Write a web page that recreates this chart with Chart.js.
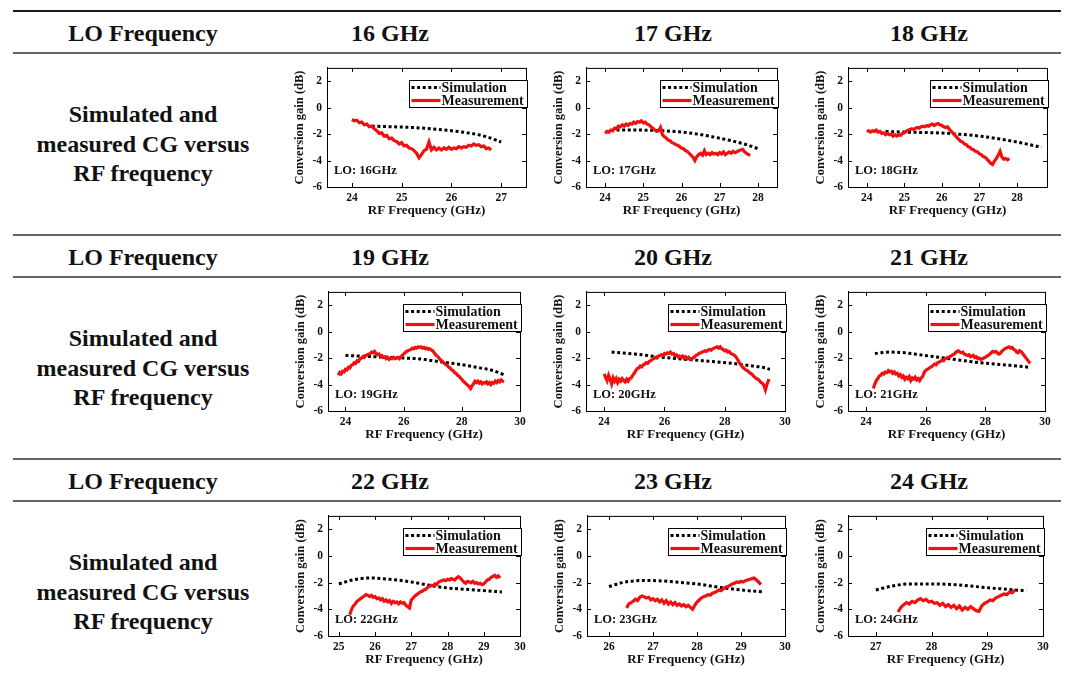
<!DOCTYPE html>
<html><head><meta charset="utf-8">
<script src="https://cdn.jsdelivr.net/npm/chart.js@4.4.1/dist/chart.umd.min.js"></script>
<style>
html,body{margin:0;padding:0;background:#fff;}
#page{position:relative;width:1065px;height:677px;overflow:hidden;background:#fff;}
.rule{position:absolute;left:13px;right:4px;}
.txt{position:absolute;transform:translate(-50%,-50%);white-space:nowrap;font-family:"Liberation Serif","Times New Roman",serif;font-weight:bold;font-size:24px;color:#111;}
.lbl{position:absolute;transform:translateX(-50%);text-align:center;white-space:nowrap;font-family:"Liberation Serif","Times New Roman",serif;font-weight:bold;font-size:24px;line-height:29.5px;color:#111;}
.cw{position:absolute;}
</style></head>
<body><div id="page"></div>
<script>
// ---------- table text ----------
const headerLabel = 'LO Frequency';
const loFreqs = ['16 GHz','17 GHz','18 GHz','19 GHz','20 GHz','21 GHz','22 GHz','23 GHz','24 GHz'];
const rowLabel = ['Simulated and','measured CG versus','RF frequency'];
const seriesNames = ['Simulation','Measurement'];
const yTicks = [-6,-4,-2,0,2];

// ---------- x axis ranges / ticks (GHz) ----------
const xRange16 = [23.5,27.5], xTicks16 = [24,25,26,27];
const xRange17 = [23.5,28.5], xTicks17 = [24,25,26,27,28];
const xRange18 = [23.5,28.8], xTicks18 = [24,25,26,27,28];
const xRange19 = [23.4,30],   xTicks19 = [24,26,28,30];
const xRange20 = [23.4,30],   xTicks20 = [24,26,28,30];
const xRange21 = [23.4,30],   xTicks21 = [24,26,28,30];
const xRange22 = [24.7,30],   xTicks22 = [25,26,27,28,29,30];
const xRange23 = [25.5,30],   xTicks23 = [26,27,28,29,30];
const xRange24 = [26.5,30],   xTicks24 = [27,28,29,30];

// ---------- data: [RF GHz, conversion gain dB] ----------
const sim16 = [[24.4,-1.4],[24.8,-1.45],[25.2,-1.5],[25.6,-1.6],[26.0,-1.75],[26.4,-1.95],[26.7,-2.2],[27.0,-2.6]];
const meas16 = [[24.00,-0.90],[24.05,-1.00],[24.10,-0.95],[24.15,-1.15],[24.20,-1.10],[24.25,-1.30],[24.30,-1.25],[24.35,-1.45],[24.40,-1.40],[24.45,-1.60],[24.50,-1.75],[24.55,-1.95],[24.60,-1.90],[24.65,-2.15],[24.70,-2.10],[24.75,-2.35],[24.80,-2.30],[24.85,-2.50],[24.90,-2.55],[24.95,-2.75],[25.00,-2.65],[25.05,-2.90],[25.10,-2.85],[25.15,-3.05],[25.20,-3.10],[25.25,-3.25],[25.30,-3.45],[25.35,-3.80],[25.40,-3.55],[25.45,-3.25],[25.50,-3.15],[25.55,-2.60],[25.60,-3.20],[25.65,-3.00],[25.70,-3.20],[25.75,-3.05],[25.80,-3.20],[25.85,-3.05],[25.90,-3.15],[25.95,-3.00],[26.00,-3.15],[26.05,-3.05],[26.10,-3.10],[26.15,-2.95],[26.20,-3.05],[26.25,-2.95],[26.30,-3.00],[26.35,-2.85],[26.40,-2.90],[26.45,-2.75],[26.50,-2.85],[26.55,-2.80],[26.60,-2.95],[26.65,-2.90],[26.70,-3.10],[26.75,-3.05],[26.80,-3.20]];

const sim17 = [[24.3,-1.7],[24.8,-1.7],[25.3,-1.72],[25.8,-1.8],[26.3,-1.95],[26.8,-2.2],[27.3,-2.5],[27.7,-2.8],[28.0,-3.1]];
const meas17 = [[24.00,-1.95],[24.05,-1.80],[24.10,-1.85],[24.15,-1.70],[24.20,-1.75],[24.25,-1.55],[24.30,-1.60],[24.35,-1.40],[24.40,-1.45],[24.45,-1.30],[24.50,-1.40],[24.55,-1.25],[24.60,-1.35],[24.65,-1.20],[24.70,-1.25],[24.75,-1.10],[24.80,-1.20],[24.85,-1.05],[24.90,-1.10],[24.95,-1.00],[25.00,-1.15],[25.05,-1.10],[25.10,-1.25],[25.15,-1.30],[25.20,-1.45],[25.25,-1.55],[25.30,-1.70],[25.35,-1.80],[25.40,-1.75],[25.45,-1.50],[25.50,-2.05],[25.55,-2.20],[25.60,-2.30],[25.65,-2.45],[25.70,-2.50],[25.75,-2.65],[25.80,-2.70],[25.85,-2.80],[25.90,-2.85],[25.95,-2.95],[26.00,-3.05],[26.05,-3.10],[26.10,-3.25],[26.15,-3.30],[26.20,-3.45],[26.25,-3.60],[26.30,-3.75],[26.35,-4.00],[26.40,-3.70],[26.45,-3.55],[26.50,-3.45],[26.55,-3.60],[26.60,-3.25],[26.65,-3.55],[26.70,-3.45],[26.75,-3.55],[26.80,-3.40],[26.85,-3.50],[26.90,-3.45],[26.95,-3.55],[27.00,-3.40],[27.05,-3.50],[27.10,-3.35],[27.15,-3.55],[27.20,-3.45],[27.25,-3.35],[27.30,-3.45],[27.35,-3.30],[27.40,-3.40],[27.45,-3.35],[27.50,-3.25],[27.55,-3.20],[27.60,-3.15],[27.65,-3.35],[27.70,-3.45],[27.75,-3.55],[27.80,-3.60]];

const sim18 = [[24.5,-1.8],[25.0,-1.85],[25.5,-1.88],[26.0,-1.92],[26.5,-2.02],[27.0,-2.15],[27.5,-2.35],[28.0,-2.6],[28.65,-3.0]];
const meas18 = [[24.00,-1.80],[24.05,-1.75],[24.10,-1.85],[24.15,-1.75],[24.20,-1.80],[24.25,-1.70],[24.30,-1.85],[24.35,-1.80],[24.40,-1.95],[24.45,-1.90],[24.50,-2.05],[24.55,-1.95],[24.60,-2.05],[24.65,-2.00],[24.70,-2.15],[24.75,-2.05],[24.80,-2.15],[24.85,-2.05],[24.90,-2.10],[24.95,-1.95],[25.00,-1.90],[25.05,-1.80],[25.10,-1.70],[25.15,-1.65],[25.20,-1.60],[25.25,-1.65],[25.30,-1.55],[25.35,-1.50],[25.40,-1.55],[25.45,-1.45],[25.50,-1.40],[25.55,-1.45],[25.60,-1.35],[25.65,-1.40],[25.70,-1.30],[25.75,-1.25],[25.80,-1.35],[25.85,-1.25],[25.90,-1.20],[25.95,-1.30],[26.00,-1.35],[26.05,-1.45],[26.10,-1.50],[26.15,-1.45],[26.20,-1.65],[26.25,-1.80],[26.30,-1.95],[26.35,-2.10],[26.40,-2.25],[26.45,-2.40],[26.50,-2.55],[26.55,-2.60],[26.60,-2.75],[26.65,-2.80],[26.70,-2.95],[26.75,-3.00],[26.80,-3.15],[26.85,-3.20],[26.90,-3.30],[26.95,-3.35],[27.00,-3.50],[27.05,-3.55],[27.10,-3.70],[27.15,-3.75],[27.20,-3.90],[27.25,-4.05],[27.30,-4.20],[27.35,-4.30],[27.40,-4.05],[27.45,-3.85],[27.50,-3.60],[27.55,-3.30],[27.60,-3.75],[27.65,-3.90],[27.70,-3.85],[27.75,-3.95],[27.80,-3.85]];

const sim19 = [[24.0,-1.8],[24.5,-1.85],[25.0,-1.9],[25.5,-1.95],[26.0,-2.0],[26.5,-2.05],[27.0,-2.2],[27.5,-2.35],[28.0,-2.5],[28.5,-2.7],[29.0,-2.9],[29.5,-3.3]];
const meas19 = [[23.75,-3.30],[23.80,-3.10],[23.85,-3.20],[23.90,-3.00],[23.95,-3.05],[24.00,-2.85],[24.05,-2.90],[24.10,-2.70],[24.15,-2.75],[24.20,-2.55],[24.25,-2.50],[24.30,-2.35],[24.35,-2.40],[24.40,-2.20],[24.45,-2.25],[24.50,-2.05],[24.55,-2.00],[24.60,-1.90],[24.65,-1.95],[24.70,-1.80],[24.75,-1.75],[24.80,-1.70],[24.85,-1.65],[24.90,-1.55],[24.95,-1.60],[25.00,-1.50],[25.05,-1.65],[25.10,-1.75],[25.15,-1.70],[25.20,-1.85],[25.25,-1.80],[25.30,-1.95],[25.35,-1.90],[25.40,-2.05],[25.45,-1.95],[25.50,-2.10],[25.55,-2.00],[25.60,-2.05],[25.65,-1.95],[25.70,-2.05],[25.75,-2.00],[25.80,-1.95],[25.85,-2.05],[25.90,-1.90],[25.95,-1.80],[26.00,-1.70],[26.05,-1.60],[26.10,-1.50],[26.15,-1.45],[26.20,-1.40],[26.25,-1.35],[26.30,-1.25],[26.35,-1.30],[26.40,-1.20],[26.45,-1.25],[26.50,-1.15],[26.55,-1.20],[26.60,-1.15],[26.65,-1.25],[26.70,-1.20],[26.75,-1.30],[26.80,-1.25],[26.85,-1.35],[26.90,-1.30],[26.95,-1.40],[27.00,-1.45],[27.05,-1.60],[27.10,-1.75],[27.15,-1.85],[27.20,-1.95],[27.25,-2.10],[27.30,-2.20],[27.35,-2.30],[27.40,-2.40],[27.45,-2.50],[27.50,-2.55],[27.55,-2.70],[27.60,-2.75],[27.65,-2.90],[27.70,-2.95],[27.75,-3.10],[27.80,-3.15],[27.85,-3.30],[27.90,-3.35],[27.95,-3.50],[28.00,-3.60],[28.05,-3.75],[28.10,-3.85],[28.15,-3.95],[28.20,-4.05],[28.25,-4.15],[28.30,-4.30],[28.35,-4.10],[28.40,-3.95],[28.45,-3.75],[28.50,-3.85],[28.55,-3.75],[28.60,-3.90],[28.65,-3.80],[28.70,-3.95],[28.75,-3.85],[28.80,-3.90],[28.85,-3.80],[28.90,-3.95],[28.95,-3.85],[29.00,-4.00],[29.05,-3.85],[29.10,-3.90],[29.15,-3.75],[29.20,-3.85],[29.25,-3.70],[29.30,-3.80],[29.35,-3.65],[29.40,-3.75],[29.45,-3.80]];

const sim20 = [[24.25,-1.55],[24.75,-1.65],[25.25,-1.75],[25.75,-1.9],[26.25,-2.0],[26.75,-2.1],[27.25,-2.2],[27.75,-2.3],[28.25,-2.4],[28.75,-2.55],[29.25,-2.7],[29.5,-2.85]];
const meas20 = [[24.00,-3.20],[24.05,-3.45],[24.10,-3.70],[24.15,-3.30],[24.20,-3.60],[24.25,-3.95],[24.30,-3.50],[24.35,-3.75],[24.40,-3.55],[24.45,-3.85],[24.50,-3.60],[24.55,-3.75],[24.60,-3.55],[24.65,-3.70],[24.70,-3.80],[24.75,-3.60],[24.80,-3.75],[24.85,-3.55],[24.90,-3.50],[24.95,-3.30],[25.00,-3.15],[25.05,-2.95],[25.10,-2.80],[25.15,-2.75],[25.20,-2.60],[25.25,-2.65],[25.30,-2.50],[25.35,-2.45],[25.40,-2.35],[25.45,-2.40],[25.50,-2.25],[25.55,-2.20],[25.60,-2.10],[25.65,-2.05],[25.70,-1.95],[25.75,-2.00],[25.80,-1.85],[25.85,-1.80],[25.90,-1.75],[25.95,-1.80],[26.00,-1.65],[26.05,-1.70],[26.10,-1.60],[26.15,-1.65],[26.20,-1.55],[26.25,-1.70],[26.30,-1.65],[26.35,-1.80],[26.40,-1.75],[26.45,-1.90],[26.50,-1.85],[26.55,-1.95],[26.60,-1.85],[26.65,-2.00],[26.70,-1.90],[26.75,-2.05],[26.80,-1.95],[26.85,-2.10],[26.90,-2.05],[26.95,-2.00],[27.00,-1.90],[27.05,-1.80],[27.10,-1.75],[27.15,-1.65],[27.20,-1.60],[27.25,-1.55],[27.30,-1.50],[27.35,-1.45],[27.40,-1.50],[27.45,-1.40],[27.50,-1.35],[27.55,-1.40],[27.60,-1.30],[27.65,-1.25],[27.70,-1.20],[27.75,-1.15],[27.80,-1.25],[27.85,-1.15],[27.90,-1.30],[27.95,-1.35],[28.00,-1.45],[28.05,-1.40],[28.10,-1.55],[28.15,-1.50],[28.20,-1.65],[28.25,-1.70],[28.30,-1.75],[28.35,-1.85],[28.40,-2.00],[28.45,-2.20],[28.50,-2.40],[28.55,-2.55],[28.60,-2.70],[28.65,-2.80],[28.70,-2.90],[28.75,-2.95],[28.80,-3.05],[28.85,-3.15],[28.90,-3.20],[28.95,-3.35],[29.00,-3.45],[29.05,-3.55],[29.10,-3.60],[29.15,-3.70],[29.20,-3.85],[29.25,-3.90],[29.30,-4.05],[29.35,-4.40],[29.40,-4.00],[29.45,-3.70],[29.50,-3.75]];

const sim21 = [[24.3,-1.65],[24.8,-1.55],[25.3,-1.6],[25.8,-1.75],[26.3,-1.9],[26.8,-2.05],[27.3,-2.2],[27.8,-2.35],[28.3,-2.45],[28.8,-2.55],[29.5,-2.7]];
const meas21 = [[24.25,-4.30],[24.30,-3.95],[24.35,-3.70],[24.40,-3.55],[24.45,-3.35],[24.50,-3.30],[24.55,-3.15],[24.60,-3.20],[24.65,-3.05],[24.70,-3.10],[24.75,-2.95],[24.80,-3.05],[24.85,-3.00],[24.90,-3.15],[24.95,-3.05],[25.00,-3.20],[25.05,-3.15],[25.10,-3.35],[25.15,-3.25],[25.20,-3.45],[25.25,-3.35],[25.30,-3.60],[25.35,-3.45],[25.40,-3.55],[25.45,-3.40],[25.50,-3.70],[25.55,-3.50],[25.60,-3.60],[25.65,-3.45],[25.70,-3.65],[25.75,-3.55],[25.80,-3.70],[25.85,-3.50],[25.90,-3.40],[25.95,-3.10],[26.00,-2.95],[26.05,-2.85],[26.10,-2.80],[26.15,-2.70],[26.20,-2.65],[26.25,-2.55],[26.30,-2.45],[26.35,-2.50],[26.40,-2.35],[26.45,-2.30],[26.50,-2.25],[26.55,-2.15],[26.60,-2.20],[26.65,-2.05],[26.70,-2.00],[26.75,-1.95],[26.80,-1.90],[26.85,-1.85],[26.90,-1.75],[26.95,-1.70],[27.00,-1.60],[27.05,-1.50],[27.10,-1.45],[27.15,-1.55],[27.20,-1.60],[27.25,-1.55],[27.30,-1.70],[27.35,-1.75],[27.40,-1.80],[27.45,-1.75],[27.50,-1.90],[27.55,-1.85],[27.60,-1.80],[27.65,-1.95],[27.70,-1.90],[27.75,-2.05],[27.80,-2.00],[27.85,-2.10],[27.90,-2.05],[27.95,-2.00],[28.00,-1.95],[28.05,-1.85],[28.10,-1.80],[28.15,-1.70],[28.20,-1.60],[28.25,-1.50],[28.30,-1.55],[28.35,-1.50],[28.40,-1.60],[28.45,-1.70],[28.50,-1.65],[28.55,-1.50],[28.60,-1.40],[28.65,-1.30],[28.70,-1.25],[28.75,-1.20],[28.80,-1.15],[28.85,-1.25],[28.90,-1.20],[28.95,-1.35],[29.00,-1.40],[29.05,-1.55],[29.10,-1.60],[29.15,-1.45],[29.20,-1.50],[29.25,-1.65],[29.30,-1.80],[29.35,-1.95],[29.40,-2.10],[29.45,-2.25],[29.50,-2.40]];

const sim22 = [[25.0,-2.1],[25.3,-1.85],[25.6,-1.7],[25.9,-1.65],[26.2,-1.7],[26.6,-1.8],[27.0,-1.95],[27.5,-2.2],[28.0,-2.4],[28.5,-2.5],[29.0,-2.6],[29.5,-2.7]];
const meas22 = [[25.30,-4.40],[25.35,-4.00],[25.40,-3.75],[25.45,-3.60],[25.50,-3.40],[25.55,-3.30],[25.60,-3.20],[25.65,-3.10],[25.70,-3.00],[25.75,-2.90],[25.80,-2.95],[25.85,-3.05],[25.90,-2.95],[25.95,-3.10],[26.00,-3.05],[26.05,-3.20],[26.10,-3.15],[26.15,-3.30],[26.20,-3.20],[26.25,-3.40],[26.30,-3.30],[26.35,-3.45],[26.40,-3.35],[26.45,-3.55],[26.50,-3.40],[26.55,-3.50],[26.60,-3.45],[26.65,-3.60],[26.70,-3.45],[26.75,-3.55],[26.80,-3.50],[26.85,-3.70],[26.90,-3.80],[26.95,-3.90],[27.00,-3.30],[27.05,-3.15],[27.10,-3.00],[27.15,-2.90],[27.20,-2.80],[27.25,-2.70],[27.30,-2.65],[27.35,-2.55],[27.40,-2.50],[27.45,-2.35],[27.50,-2.30],[27.55,-2.20],[27.60,-2.25],[27.65,-2.10],[27.70,-2.15],[27.75,-1.95],[27.80,-1.90],[27.85,-1.85],[27.90,-1.80],[27.95,-1.85],[28.00,-1.75],[28.05,-1.80],[28.10,-1.70],[28.15,-1.75],[28.20,-1.80],[28.25,-1.65],[28.30,-1.55],[28.35,-1.65],[28.40,-1.80],[28.45,-1.95],[28.50,-2.05],[28.55,-1.90],[28.60,-1.95],[28.65,-2.00],[28.70,-1.90],[28.75,-2.05],[28.80,-2.00],[28.85,-2.10],[28.90,-2.05],[28.95,-2.15],[29.00,-2.10],[29.05,-1.95],[29.10,-1.80],[29.15,-1.75],[29.20,-1.60],[29.25,-1.55],[29.30,-1.45],[29.35,-1.60],[29.40,-1.50],[29.45,-1.65]];

const sim23 = [[26.0,-2.3],[26.3,-2.0],[26.7,-1.85],[27.0,-1.85],[27.5,-1.95],[28.0,-2.1],[28.5,-2.35],[29.0,-2.55],[29.5,-2.7]];
const meas23 = [[26.40,-3.90],[26.45,-3.60],[26.50,-3.50],[26.55,-3.40],[26.60,-3.25],[26.65,-3.35],[26.70,-3.10],[26.75,-3.00],[26.80,-3.05],[26.85,-3.15],[26.90,-3.10],[26.95,-3.30],[27.00,-3.20],[27.05,-3.35],[27.10,-3.25],[27.15,-3.45],[27.20,-3.30],[27.25,-3.55],[27.30,-3.35],[27.35,-3.60],[27.40,-3.45],[27.45,-3.65],[27.50,-3.50],[27.55,-3.70],[27.60,-3.60],[27.65,-3.75],[27.70,-3.65],[27.75,-3.80],[27.80,-3.70],[27.85,-3.85],[27.90,-4.00],[27.95,-3.70],[28.00,-3.45],[28.05,-3.30],[28.10,-3.15],[28.15,-3.05],[28.20,-3.00],[28.25,-2.90],[28.30,-2.95],[28.35,-2.80],[28.40,-2.75],[28.45,-2.65],[28.50,-2.55],[28.55,-2.60],[28.60,-2.45],[28.65,-2.35],[28.70,-2.30],[28.75,-2.20],[28.80,-2.10],[28.85,-2.05],[28.90,-1.95],[28.95,-2.00],[29.00,-1.90],[29.05,-1.95],[29.10,-1.85],[29.15,-1.80],[29.20,-1.75],[29.25,-1.70],[29.30,-1.65],[29.35,-1.80],[29.40,-1.95],[29.45,-2.15]];

const sim24 = [[27.0,-2.55],[27.3,-2.25],[27.6,-2.1],[28.0,-2.1],[28.4,-2.15],[28.8,-2.3],[29.2,-2.45],[29.5,-2.55],[29.7,-2.6]];
const meas24 = [[27.40,-4.20],[27.45,-3.85],[27.50,-3.65],[27.55,-3.50],[27.60,-3.60],[27.65,-3.40],[27.70,-3.50],[27.75,-3.30],[27.80,-3.20],[27.85,-3.35],[27.90,-3.25],[27.95,-3.45],[28.00,-3.40],[28.05,-3.55],[28.10,-3.50],[28.15,-3.70],[28.20,-3.55],[28.25,-3.80],[28.30,-3.65],[28.35,-3.85],[28.40,-3.70],[28.45,-3.95],[28.50,-3.75],[28.55,-4.05],[28.60,-3.85],[28.65,-4.00],[28.70,-3.80],[28.75,-3.95],[28.80,-4.10],[28.85,-4.15],[28.90,-3.75],[28.95,-3.55],[29.00,-3.45],[29.05,-3.30],[29.10,-3.35],[29.15,-3.15],[29.20,-3.05],[29.25,-2.95],[29.30,-2.85],[29.35,-2.90],[29.40,-2.70],[29.45,-2.75],[29.50,-2.55]];

const loNotes = ['LO: 16GHz','LO: 17GHz','LO: 18GHz','LO: 19GHz','LO: 20GHz','LO: 21GHz','LO: 22GHz','LO: 23GHz','LO: 24GHz'];

// ---------- layout (pixels, separate from data) ----------
const plotBoxes = [
  [327,68,526,187],[586,68,777,187],[848,68,1047,187],
  [328,292,520,411],[586,292,785,411],[848,292,1045,411],
  [328,516,520,636],[587,516,785,636],[848,516,1043,636]
];
const headerY = [33,257,481];
const colX = [143,390,673,929];
const ruleY = [{y:10,h:2,c:'#1a1a1a'},{y:52,h:2,c:'#666'},{y:234,h:2,c:'#666'},{y:276,h:2,c:'#666'},{y:458,h:2,c:'#666'},{y:500,h:2,c:'#666'}];
const labelTop = [100,324,548];

const panels = [
  {sim:sim16,meas:meas16,xr:xRange16,xt:xTicks16},
  {sim:sim17,meas:meas17,xr:xRange17,xt:xTicks17},
  {sim:sim18,meas:meas18,xr:xRange18,xt:xTicks18},
  {sim:sim19,meas:meas19,xr:xRange19,xt:xTicks19},
  {sim:sim20,meas:meas20,xr:xRange20,xt:xTicks20},
  {sim:sim21,meas:meas21,xr:xRange21,xt:xTicks21},
  {sim:sim22,meas:meas22,xr:xRange22,xt:xTicks22},
  {sim:sim23,meas:meas23,xr:xRange23,xt:xTicks23},
  {sim:sim24,meas:meas24,xr:xRange24,xt:xTicks24}
];

const page = document.getElementById('page');
ruleY.forEach(r=>{const d=document.createElement('div');d.className='rule';d.style.top=r.y+'px';d.style.height=r.h+'px';d.style.background=r.c;page.appendChild(d);});
function addTxt(t,x,y){const d=document.createElement('div');d.className='txt';d.textContent=t;d.style.left=x+'px';d.style.top=y+'px';page.appendChild(d);}
headerY.forEach((y,r)=>{
  addTxt(headerLabel,colX[0],y);
  for(let c=0;c<3;c++) addTxt(loFreqs[r*3+c],colX[c+1],y);
  const d=document.createElement('div');d.className='lbl';d.style.left=colX[0]+'px';d.style.top=labelTop[r]+'px';
  d.innerHTML=rowLabel.join('<br>');page.appendChild(d);
});

const SERIF = '"Liberation Serif","Times New Roman",serif';
const framePlugin = {
  id:'frame',
  afterDraw(chart, args, opts){
    const {ctx, chartArea:a, scales:{x,y}} = chart;
    ctx.save();
    ctx.strokeStyle='#000'; ctx.lineWidth=1;
    ctx.beginPath();
    ctx.moveTo(a.left, a.top+0.5); ctx.lineTo(a.right+0.5, a.top+0.5);
    ctx.moveTo(a.right+0.5, a.top); ctx.lineTo(a.right+0.5, a.bottom);
    x.ticks.forEach(t=>{const px=Math.round(x.getPixelForValue(t.value))+0.5;
      if(px>a.left+1&&px<a.right-1){ctx.moveTo(px,a.bottom);ctx.lineTo(px,a.bottom-4);ctx.moveTo(px,a.top);ctx.lineTo(px,a.top+4);}});
    y.ticks.forEach(t=>{const py=Math.round(y.getPixelForValue(t.value))+0.5;
      if(py>a.top+1&&py<a.bottom-1){ctx.moveTo(a.left,py);ctx.lineTo(a.left+4,py);ctx.moveTo(a.right,py);ctx.lineTo(a.right-4,py);}});
    ctx.stroke();
    // LO note
    ctx.fillStyle='#111'; ctx.font='bold 12.5px '+SERIF; ctx.textBaseline='middle'; ctx.textAlign='left';
    ctx.fillText(opts.note, a.left+7, y.getPixelForValue(-4.75));
    // legend
    const bw=118, bh=27, bx=Math.round(a.right+1-bw)+0.5, by=Math.round(a.top+12)+0.5;
    ctx.fillStyle='#fff'; ctx.fillRect(bx,by,bw,bh);
    ctx.strokeStyle='#000'; ctx.lineWidth=1; ctx.strokeRect(bx,by,bw,bh);
    ctx.font='bold 14px '+SERIF; ctx.textBaseline='middle';
    chart.data.datasets.forEach((ds,i)=>{
      const ly = by + 7 + i*13;
      ctx.save(); ctx.strokeStyle=ds.borderColor; ctx.lineWidth=ds.borderWidth; ctx.setLineDash(ds.borderDash||[]);
      ctx.beginPath(); ctx.moveTo(bx+2,ly); ctx.lineTo(bx+31,ly); ctx.stroke(); ctx.restore();
      ctx.fillStyle='#111'; ctx.fillText(ds.label, bx+32, ly+0.5);
    });
    ctx.restore();
  }
};

const AX_W=37, AX_H=31, PT=4, PR=10;
panels.forEach((p,i)=>{
  const b=plotBoxes[i];
  const w=(b[2]-b[0])+AX_W+PR, h=(b[3]-b[1])+PT+AX_H;
  const wrap=document.createElement('div'); wrap.className='cw';
  wrap.style.left=(b[0]-AX_W)+'px'; wrap.style.top=(b[1]-PT)+'px'; wrap.style.width=w+'px'; wrap.style.height=h+'px';
  const cv=document.createElement('canvas'); cv.width=w; cv.height=h; cv.style.width=w+'px'; cv.style.height=h+'px';
  wrap.appendChild(cv); page.appendChild(wrap);
  const tickFont={family:SERIF,weight:'bold',size:11.5};
  const ch = new Chart(cv,{
    type:'line',
    data:{datasets:[
      {label:seriesNames[0],data:p.sim.map(([x,y])=>({x,y})),borderColor:'#000',borderWidth:3,borderDash:[3,2.6],pointRadius:0,cubicInterpolationMode:'monotone',order:1},
      {label:seriesNames[1],data:p.meas.map(([x,y])=>({x,y})),borderColor:'#f01010',borderWidth:3.2,pointRadius:0,tension:0,order:0}
    ]},
    options:{
      responsive:false,maintainAspectRatio:false,animation:false,devicePixelRatio:1,
      layout:{padding:{top:PT,right:PR,left:0,bottom:0}},
      plugins:{legend:{display:false},tooltip:{enabled:false},frame:{note:loNotes[i]}},
      scales:{
        x:{type:'linear',min:p.xr[0],max:p.xr[1],
          afterBuildTicks:s=>{s.ticks=p.xt.map(v=>({value:v}));},
          afterFit:s=>{s.height=AX_H;},
          grid:{display:false,drawTicks:false},
          border:{display:true,color:'#000',width:1},
          ticks:{font:tickFont,color:'#111',padding:4,maxRotation:0,autoSkip:false},
          title:{display:true,text:'RF Frequency (GHz)',font:{family:SERIF,weight:'bold',size:13},color:'#111',padding:{top:0,bottom:0}}
        },
        y:{type:'linear',min:-6,max:3,
          afterBuildTicks:s=>{s.ticks=yTicks.map(v=>({value:v}));},
          afterFit:s=>{s.width=AX_W;},
          grid:{display:false,drawTicks:false},
          border:{display:true,color:'#000',width:1},
          ticks:{font:tickFont,color:'#111',padding:5},
          title:{display:true,text:'Conversion gain (dB)',font:{family:SERIF,weight:'bold',size:12.5},color:'#111',padding:{top:2,bottom:0}}
        }
      }
    },
    plugins:[framePlugin]
  });
  // compensate automatic scale padding so the plot area lands on the intended box
  for(let k=0;k<2;k++){
    const a = ch.chartArea;
    const cw = ch.width, chh = ch.height;
    const offL = a.left, offT = a.top;
    const wantW = b[2]-b[0], wantH = b[3]-b[1];
    const nw = Math.round(cw + (wantW - (a.right-a.left)));
    const nh = Math.round(chh + (wantH - (a.bottom-a.top)));
    wrap.style.left=(b[0]-offL)+'px'; wrap.style.top=(b[1]-offT)+'px';
    wrap.style.width=nw+'px'; wrap.style.height=nh+'px';
    if(nw!==cw || nh!==chh) ch.resize(nw, nh);
  }
  const a2 = ch.chartArea;
  wrap.style.left=(b[0]-a2.left)+'px'; wrap.style.top=(b[1]-a2.top)+'px';
});
</script></body></html>
